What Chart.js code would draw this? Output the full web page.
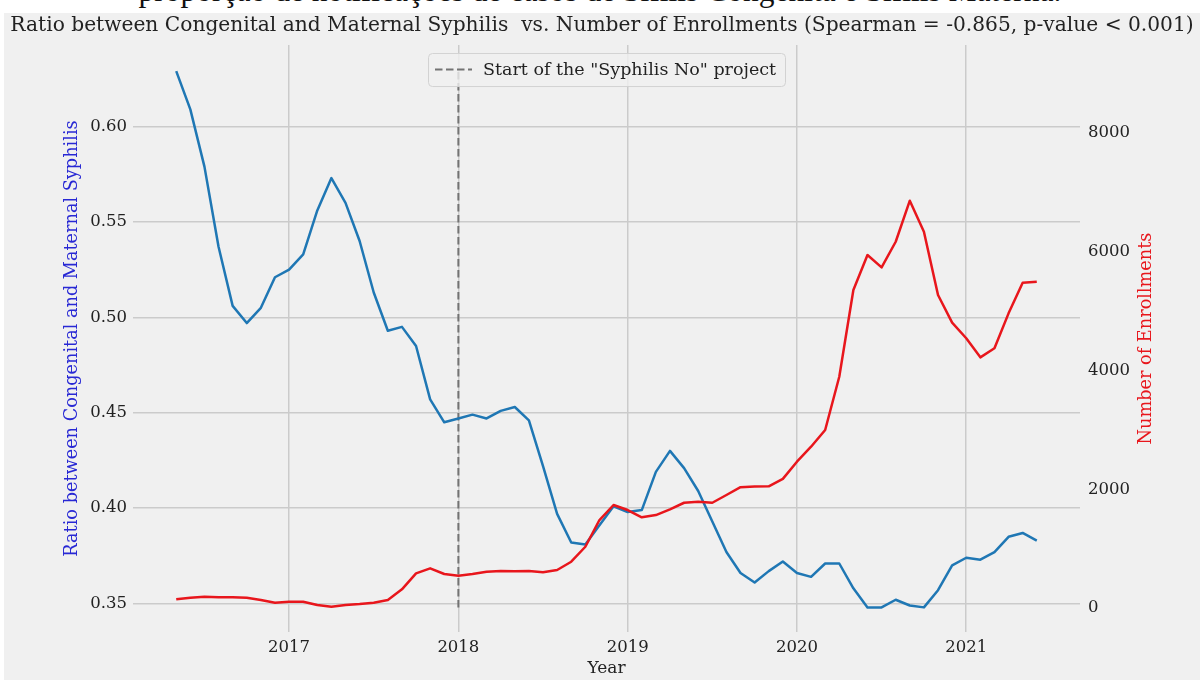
<!DOCTYPE html>
<html>
<head>
<meta charset="utf-8">
<title>Congenital vs Maternal Syphilis ratio and enrollments</title>
<script src="https://cdn.jsdelivr.net/npm/chart.js@4.4.1/dist/chart.umd.min.js"></script>
<style>
    html, body { margin: 0; padding: 0; background: #ffffff; }
    body { width: 1200px; height: 680px; position: relative; overflow: hidden; }
    #caption {
        position: absolute; left: 0; top: -26px; width: 1200px;
        text-align: center; font-family: "Liberation Serif", serif;
        font-size: 31.5px; line-height: 34px; color: #111;
    }
    #wrap { position: absolute; left: 4px; top: 13px; width: 1196px; height: 667px; background: #f0f0f0; }
</style>
</head>
<body>
<div id="caption">proporção de notificações de casos de Sífilis Congênita e Sífilis Materna.</div>
<div id="wrap"><canvas id="syphilisChart" width="1196" height="667"></canvas></div>
<script>
// Monthly series, May 2016 - Jun 2021
const months = [
    '2016-05', '2016-06', '2016-07', '2016-08', '2016-09', '2016-10', '2016-11', '2016-12',
    '2017-01', '2017-02', '2017-03', '2017-04', '2017-05', '2017-06', '2017-07', '2017-08', '2017-09', '2017-10', '2017-11', '2017-12',
    '2018-01', '2018-02', '2018-03', '2018-04', '2018-05', '2018-06', '2018-07', '2018-08', '2018-09', '2018-10', '2018-11', '2018-12',
    '2019-01', '2019-02', '2019-03', '2019-04', '2019-05', '2019-06', '2019-07', '2019-08', '2019-09', '2019-10', '2019-11', '2019-12',
    '2020-01', '2020-02', '2020-03', '2020-04', '2020-05', '2020-06', '2020-07', '2020-08', '2020-09', '2020-10', '2020-11', '2020-12',
    '2021-01', '2021-02', '2021-03', '2021-04', '2021-05', '2021-06'
];

const ratio = [
    0.629, 0.609, 0.579, 0.537, 0.506, 0.497, 0.505, 0.521,
    0.525, 0.533, 0.556, 0.573, 0.560, 0.540, 0.513, 0.493, 0.495, 0.485, 0.457, 0.445,
    0.447, 0.449, 0.447, 0.451, 0.453, 0.446, 0.422, 0.397, 0.382, 0.381, 0.391, 0.401,
    0.398, 0.399, 0.419, 0.430, 0.421, 0.409, 0.393, 0.377, 0.366, 0.361, 0.367, 0.372,
    0.366, 0.364, 0.371, 0.371, 0.358, 0.348, 0.348, 0.352, 0.349, 0.348, 0.357, 0.370,
    0.374, 0.373, 0.377, 0.385, 0.387, 0.383
];

const enrollments = [
    146, 174, 190, 183, 183, 174, 135, 90,
    107, 107, 51, 22, 51, 67, 90, 135, 314, 584, 668, 573,
    545, 573, 612, 623, 618, 623, 601, 640, 780, 1032, 1482, 1735,
    1650, 1527, 1566, 1662, 1773, 1790, 1773, 1903, 2035, 2045, 2050, 2175,
    2464, 2717, 2998, 3896, 5356, 5945, 5738, 6169, 6860, 6338, 5272, 4806,
    4543, 4222, 4374, 4963, 5479, 5496
];

const projectStart = '2018-01';
const yearTicks = [2017, 2018, 2019, 2020, 2021];
const ratioTicks = [0.35, 0.40, 0.45, 0.50, 0.55, 0.60];
const enrollTicks = [0, 2000, 4000, 6000, 8000];

const chartTitle = 'Ratio between Congenital and Maternal Syphilis  vs. Number of Enrollments (Spearman = -0.865, p-value < 0.001)';
const ratioTitle = 'Ratio between Congenital and Maternal Syphilis';
const enrollTitle = 'Number of Enrollments';
const projectLabel = 'Start of the "Syphilis No" project';

const serif = '"DejaVu Serif", serif';
const blue = '#1f77b4';
const red = '#e8161c';
const gridColor = '#cbcbcb';
const textColor = '#222222';

// '2018-01' -> 2018.0
function toYear(m) {
    const [y, mo] = m.split('-').map(Number);
    return y + (mo - 1) / 12;
}

function toPoints(values) {
    return values.map((v, i) => ({ x: toYear(months[i]), y: v }));
}

// Legend box drawn inside the plot, upper center
const boxLegend = {
    id: 'boxLegend',
    afterDatasetsDraw(chart) {
        const ds = chart.data.datasets.find(d => d.showInLegend);
        const { ctx, chartArea } = chart;
        const w = 357, h = 33;
        const x = (chartArea.left + chartArea.right) / 2 - w / 2;
        const y = chartArea.top + 8;
        ctx.save();
        ctx.fillStyle = 'rgba(240, 240, 240, 0.8)';
        ctx.strokeStyle = '#d2d2d2';
        ctx.lineWidth = 1;
        ctx.beginPath();
        ctx.roundRect(x + 0.5, y + 0.5, w, h, 4);
        ctx.fill();
        ctx.stroke();
        ctx.setLineDash(ds.borderDash);
        ctx.strokeStyle = ds.borderColor;
        ctx.lineWidth = ds.borderWidth;
        ctx.beginPath();
        ctx.moveTo(x + 7, y + h / 2);
        ctx.lineTo(x + 44, y + h / 2);
        ctx.stroke();
        ctx.setLineDash([]);
        ctx.fillStyle = textColor;
        ctx.font = '17.5px ' + serif;
        ctx.textBaseline = 'middle';
        ctx.fillText(ds.label, x + 55, y + h / 2 + 1);
        ctx.restore();
    }
};

// Right axis title reads bottom-to-top like the left one
const rightTitle = {
    id: 'rightTitle',
    afterDraw(chart) {
        const { ctx, chartArea } = chart;
        ctx.save();
        ctx.translate(chartArea.right + 66, (chartArea.top + chartArea.bottom) / 2);
        ctx.rotate(-Math.PI / 2);
        ctx.font = '17.7px ' + serif;
        ctx.fillStyle = red;
        ctx.textAlign = 'center';
        ctx.textBaseline = 'middle';
        ctx.fillText(enrollTitle, 0, 0);
        ctx.restore();
    }
};

const tickFont = { family: serif, size: 16.5 };

const ctx = document.getElementById('syphilisChart').getContext('2d');
new Chart(ctx, {
    type: 'line',
    data: {
        datasets: [
            {
                label: enrollTitle,
                data: toPoints(enrollments),
                yAxisID: 'y1',
                borderColor: red,
                borderWidth: 2.5,
                borderJoinStyle: 'round',
                pointRadius: 0,
                tension: 0,
                order: 0
            },
            {
                label: ratioTitle,
                data: toPoints(ratio),
                yAxisID: 'y',
                borderColor: blue,
                borderWidth: 2.5,
                borderJoinStyle: 'round',
                pointRadius: 0,
                tension: 0,
                order: 1
            },
            {
                label: projectLabel,
                showInLegend: true,
                data: [
                    { x: toYear(projectStart), y: Math.min(...ratio) },
                    { x: toYear(projectStart), y: Math.max(...ratio) }
                ],
                yAxisID: 'y',
                borderColor: '#737373',
                borderWidth: 2,
                borderDash: [7.5, 3.5],
                pointRadius: 0,
                order: 2
            }
        ]
    },
    options: {
        responsive: false,
        animation: false,
        layout: { padding: 0 },
        plugins: {
            legend: { display: false },
            tooltip: { enabled: false },
            title: {
                display: true,
                text: chartTitle,
                color: textColor,
                font: { family: serif, size: 20.2, weight: 'normal' },
                padding: { top: 1, bottom: 6.8 }
            }
        },
        scales: {
            x: {
                type: 'linear',
                min: 2016.078,
                max: 2021.672,
                afterBuildTicks: axis => { axis.ticks = yearTicks.map(v => ({ value: v })); },
                afterFit: axis => { axis.height = 48; },
                grid: { color: gridColor, lineWidth: 1.5, drawTicks: false },
                border: { display: false },
                ticks: { padding: 6, color: textColor, font: tickFont, callback: v => String(v) },
                title: {
                    display: true,
                    text: 'Year',
                    color: textColor,
                    font: { family: serif, size: 17 },
                    padding: { top: 0, bottom: 1 }
                }
            },
            y: {
                position: 'left',
                min: 0.3351,
                max: 0.6427,
                afterBuildTicks: axis => { axis.ticks = ratioTicks.map(v => ({ value: v })); },
                afterFit: axis => { axis.width = 129; },
                grid: { color: gridColor, lineWidth: 1.5, drawTicks: false },
                border: { display: false },
                ticks: { padding: 6, color: textColor, font: tickFont, callback: v => v.toFixed(2) },
                title: {
                    display: true,
                    text: ratioTitle,
                    color: '#2828d4',
                    font: { family: serif, size: 17.7 },
                    padding: { top: 58, bottom: 0 }
                }
            },
            y1: {
                position: 'right',
                min: -404,
                max: 9482,
                afterBuildTicks: axis => { axis.ticks = enrollTicks.map(v => ({ value: v })); },
                afterFit: axis => { axis.width = 120; },
                grid: { display: false, drawTicks: false },
                border: { display: false },
                ticks: { padding: 8, color: textColor, font: tickFont, callback: v => String(v) }
            }
        }
    },
    plugins: [boxLegend, rightTitle]
});
</script>
</body>
</html>
